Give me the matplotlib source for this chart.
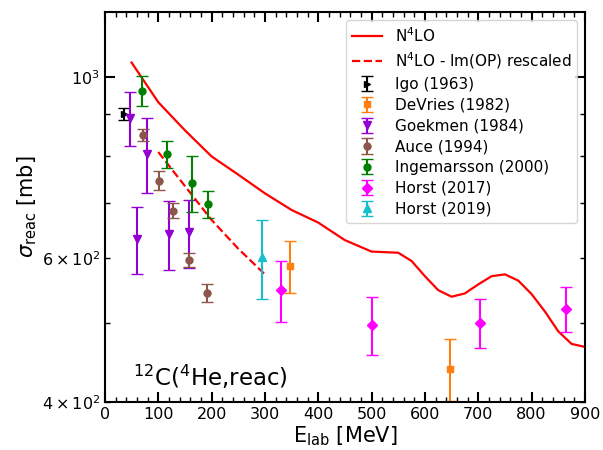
import numpy as np
import matplotlib
matplotlib.use("Agg")
import matplotlib.pyplot as plt
from matplotlib.ticker import MultipleLocator

# N4LO curve
e_n4lo = [50, 100, 150, 200, 250, 300, 350, 400, 450, 500, 550, 575, 600, 625,
          650, 675, 700, 725, 750, 775, 800, 825, 850, 875, 900]
s_n4lo = [1041, 931, 860, 799, 759, 720, 687, 663, 631, 611, 609, 595, 570, 548,
          538, 543, 557, 570, 573, 563, 542, 516, 488, 471, 467]

# N4LO with rescaled Im(OP)
e_resc = [100, 150, 200, 250, 300]
s_resc = [809, 735, 668, 616, 573]

# data sets: energy, sigma, error
igo_e = [35]
igo_s = [900]
igo_err = [15]

devries_e = [347, 647]
devries_s = [587, 439]
devries_err = [43, 38]

goek_e = [47, 60, 78, 120, 157]
goek_s = [890, 633, 805, 642, 645]
goek_err = [67, 60, 85, 62, 62]

auce_e = [72, 102, 128, 158, 191]
auce_s = [849, 746, 686, 597, 544]
auce_err = [14, 20, 14, 12, 14]

inge_e = [69.6, 117.0, 163.7, 192.4]
inge_s = [961, 804, 741, 698]
inge_err = [40, 31, 58, 27]

horst17_e = [331, 500, 703, 864]
horst17_s = [548, 497, 500, 520]
horst17_err = [47, 40, 35, 33]

horst19_e = [295]
horst19_s = [601]
horst19_err = [66]

fig, ax = plt.subplots(figsize=(6.03, 4.5), dpi=100)
fig.subplots_adjust(left=0.174, right=0.970, top=0.973, bottom=0.107)

ax.plot(e_n4lo, s_n4lo, color="red", lw=1.6, label="N$^4$LO")
ax.plot(e_resc, s_resc, color="red", lw=1.6, ls="--", label="N$^4$LO - Im(OP) rescaled")

ms = 5
cs = 4
ax.errorbar(igo_e, igo_s, yerr=igo_err, fmt=">", color="black", ms=ms, capsize=cs, label="Igo (1963)")
ax.errorbar(devries_e, devries_s, yerr=devries_err, fmt="s", color="tab:orange", ms=ms, capsize=cs, label="DeVries (1982)")
ax.errorbar(goek_e, goek_s, yerr=goek_err, fmt="v", color="darkviolet", ms=ms + 0.5, capsize=cs, label="Goekmen (1984)")
ax.errorbar(auce_e, auce_s, yerr=auce_err, fmt="o", color="tab:brown", ms=ms, capsize=cs, label="Auce (1994)")
ax.errorbar(inge_e, inge_s, yerr=inge_err, fmt="o", color="green", ms=ms, capsize=cs, label="Ingemarsson (2000)")
ax.errorbar(horst17_e, horst17_s, yerr=horst17_err, fmt="D", color="magenta", ms=ms, capsize=cs, label="Horst (2017)")
ax.errorbar(horst19_e, horst19_s, yerr=horst19_err, fmt="^", color="tab:cyan", ms=ms + 0.5, capsize=cs, label="Horst (2019)")

ax.set_yscale("log")
ax.set_xlim(0, 900)
ax.set_ylim(400, 1200)
ax.xaxis.set_major_locator(MultipleLocator(100))
ax.xaxis.set_minor_locator(MultipleLocator(20))
ax.tick_params(which="both", direction="in", top=True, right=True, labelsize=11.5)
ax.tick_params(which="major", length=7, width=1.5)
ax.tick_params(which="minor", length=3.5, width=1)
for s in ax.spines.values():
    s.set_linewidth(1.5)

ax.set_xlabel(r"E$_{\rm lab}$ [MeV]", fontsize=15, labelpad=2)
ax.set_ylabel(r"$\sigma_{\rm reac}$ [mb]", fontsize=15, labelpad=2)

ax.text(0.058, 0.041, r"$^{12}$C($^4$He,reac)", transform=ax.transAxes, fontsize=16.5)

ax.legend(loc="upper right", fontsize=11, labelspacing=0.38)

fig.savefig("out.png")
